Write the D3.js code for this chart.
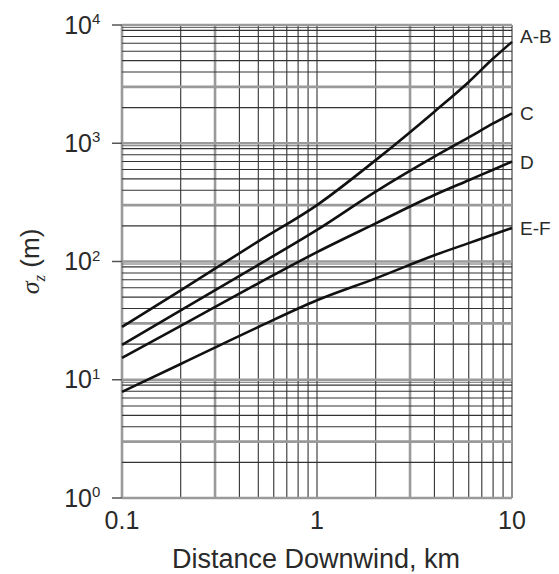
<!DOCTYPE html>
<html lang="en">
<head>
<meta charset="utf-8">
<title>Vertical dispersion coefficient vs distance</title>
<script src="https://d3js.org/d3.v7.min.js"></script>
<style>
  body { margin: 0; background: #fff; }
  text { font-family: "Liberation Sans", Arial, sans-serif; fill: #2a2a2a; }
</style>
</head>
<body>
<script>
// distances downwind (km) at which the curves were read
var distances = [0.1, 0.2, 0.5, 1, 2, 4, 6, 8, 10];

// sigma_z (m) for each stability class
var sigmaAB = [28, 57, 148, 300, 720, 1850, 3300, 5200, 7200];
var sigmaC  = [19.7, 38.6, 93.6, 185, 390, 770, 1120, 1470, 1790];
var sigmaD  = [15.3, 28.5, 65.4, 120, 210, 365, 487, 597, 700];
var sigmaEF = [7.9, 13.6, 27.9, 47, 72, 113, 143, 169, 192];

var classes = ["A-B", "C", "D", "E-F"];
var xTickLabels = ["0.1", "1", "10"];
var yDecades = [1, 10, 100, 1000, 10000];

var W = 559, H = 574;
var plotL = 122, plotR = 512, plotT = 25, plotB = 498;

var svg = d3.select("body").append("svg")
    .attr("width", W)
    .attr("height", H);

var x = d3.scaleLog().domain([0.1, 10]).range([plotL, plotR]);
var y = d3.scaleLog().domain([1, 10000]).range([plotB, plotT]);

// leading digit of a log tick, used for the grid styling
function mantissa(v) {
    return Math.round(v / Math.pow(10, Math.floor(Math.log10(v) + 1e-9)));
}

var grid = svg.append("g");

// vertical grid
x.ticks().forEach(function(v) {
    var m = mantissa(v);
    var gray = (m === 3 || v === 0.1);
    grid.append("line")
        .attr("x1", x(v)).attr("x2", x(v))
        .attr("y1", plotT).attr("y2", plotB)
        .attr("stroke", gray ? "#9a9a9a" : "#333")
        .attr("stroke-width", gray ? 2.6 : 1.1);
});

// horizontal grid
y.ticks().forEach(function(v) {
    var m = mantissa(v);
    var gray = (m === 3 || m === 1);
    grid.append("line")
        .attr("x1", plotL).attr("x2", plotR)
        .attr("y1", y(v)).attr("y2", y(v))
        .attr("stroke", gray ? "#9a9a9a" : "#333")
        .attr("stroke-width", gray ? 2.6 : 1.1);
    if (m === 1 && v > 1) {
        grid.append("line")
            .attr("x1", plotL).attr("x2", plotR)
            .attr("y1", y(v) + 2.5).attr("y2", y(v) + 2.5)
            .attr("stroke", "#444")
            .attr("stroke-width", 0.8);
    }
});

// y decade ticks and labels
var yAxis = svg.append("g");
yDecades.forEach(function(v) {
    var p = y(v);
    yAxis.append("line")
        .attr("x1", plotL - 10).attr("x2", plotL)
        .attr("y1", p).attr("y2", p)
        .attr("stroke", "#555").attr("stroke-width", 1.5);
    yAxis.append("text")
        .attr("x", 92).attr("y", p + 8.5)
        .attr("text-anchor", "end")
        .attr("font-size", 25)
        .text("10");
    yAxis.append("text")
        .attr("x", 92).attr("y", p - 1)
        .attr("font-size", 15)
        .text(Math.round(Math.log10(v)));
});

// x labels
var xAxis = svg.append("g");
[0.1, 1, 10].forEach(function(v, i) {
    xAxis.append("text")
        .attr("x", x(v)).attr("y", 529)
        .attr("text-anchor", "middle")
        .attr("font-size", 25)
        .text(xTickLabels[i]);
});

svg.append("text")
    .attr("x", 316).attr("y", 568)
    .attr("text-anchor", "middle")
    .attr("font-size", 27)
    .text("Distance Downwind, km");

// y title
var yTitle = svg.append("text")
    .attr("transform", "translate(39," + ((plotT + plotB) / 2) + ") rotate(-90)")
    .attr("text-anchor", "middle")
    .attr("font-size", 26);
yTitle.append("tspan")
    .attr("font-family", "Liberation Serif, serif")
    .attr("font-style", "italic")
    .text("σ");
yTitle.append("tspan")
    .attr("font-family", "Liberation Serif, serif")
    .attr("font-style", "italic")
    .attr("font-size", 17)
    .attr("dy", 6)
    .text("z");
yTitle.append("tspan")
    .attr("dy", -6)
    .text(" (m)");

// curves
var series = [sigmaAB, sigmaC, sigmaD, sigmaEF];
var line = d3.line()
    .x(function(d) { return x(d[0]); })
    .y(function(d) { return y(d[1]); })
    .curve(d3.curveMonotoneX);

series.forEach(function(vals, i) {
    var pts = distances.map(function(dx, j) { return [dx, vals[j]]; });
    svg.append("path")
        .attr("d", line(pts))
        .attr("fill", "none")
        .attr("stroke", "#111")
        .attr("stroke-width", 2.6);

    svg.append("text")
        .attr("x", plotR + 8)
        .attr("y", y(vals[vals.length - 1]) + (i === 0 ? 1 : 7))
        .attr("font-size", 19)
        .text(classes[i]);
});
</script>
</body>
</html>
